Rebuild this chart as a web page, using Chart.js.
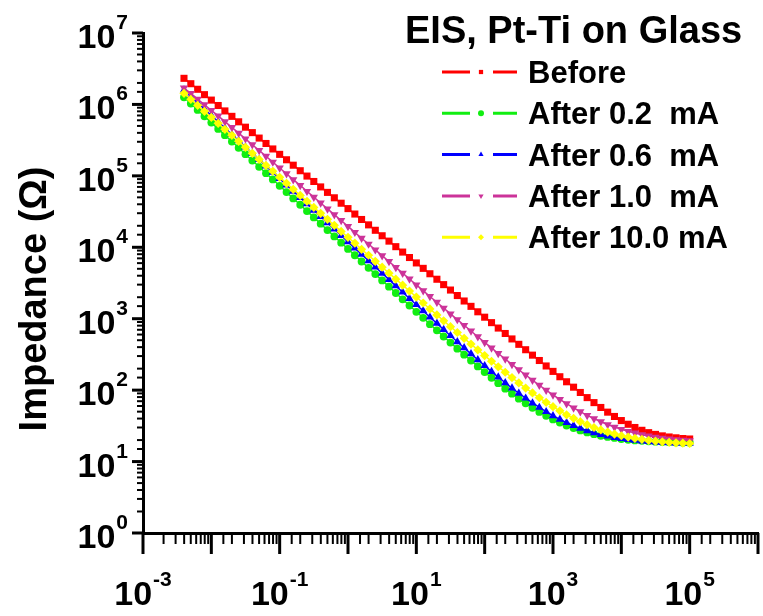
<!DOCTYPE html>
<html>
<head>
<meta charset="utf-8">
<script src="https://cdn.jsdelivr.net/npm/chart.js@4.4.1/dist/chart.umd.min.js"></script>
<style>
  html, body { margin: 0; padding: 0; background: #fff; }
  #eis { display: block; }
</style>
</head>
<body>
<canvas id="eis" width="763" height="616"></canvas>
<script>
// EIS, Pt-Ti on Glass - |Z| vs frequency (Hz), log-log

const freq = [
  0.00398, 0.00501, 0.00631, 0.00794, 0.01, 0.0126, 0.0158, 0.02, 0.0251, 0.0316,
  0.0398, 0.0501, 0.0631, 0.0794, 0.1, 0.126, 0.158, 0.2, 0.251, 0.316,
  0.398, 0.501, 0.631, 0.794, 1, 1.26, 1.58, 2, 2.51, 3.16,
  3.98, 5.01, 6.31, 7.94, 10, 12.6, 15.8, 20, 25.1, 31.6,
  39.8, 50.1, 63.1, 79.4, 100, 126, 158, 200, 251, 316,
  398, 501, 631, 794, 1000, 1260, 1580, 2000, 2510, 3160,
  3980, 5010, 6310, 7940, 10000, 12600, 15800, 20000, 25100, 31600,
  39800, 50100, 63100, 79400, 100000
];

const zBefore = [
  2.32e6, 1.95e6, 1.63e6, 1.37e6, 1.15e6, 9.66e5, 8.11e5, 6.81e5, 5.71e5, 4.80e5,
  4.03e5, 3.38e5, 2.84e5, 2.38e5, 2.00e5, 1.68e5, 1.41e5, 1.18e5, 9.93e4, 8.34e4,
  7.00e4, 5.87e4, 4.93e4, 4.14e4, 3.48e4, 2.92e4, 2.45e4, 2.06e4, 1.73e4, 1.45e4,
  1.22e4, 1.02e4, 8570, 7190, 6040, 5070, 4260, 3570, 3000, 2520,
  2110, 1770, 1490, 1250, 1050, 881, 740, 621, 521, 438,
  368, 309, 260, 218, 183, 154, 131, 110, 92.8, 78.6,
  66.9, 57.2, 49.2, 42.8, 37.5, 33.3, 30.0, 27.4, 25.4, 24.0,
  22.9, 22.1, 21.5, 21.0, 20.7
];

const zAfter02 = [
  1.26e6, 1.03e6, 8.38e5, 6.83e5, 5.57e5, 4.54e5, 3.71e5, 3.02e5, 2.47e5, 2.01e5,
  1.64e5, 1.34e5, 1.09e5, 8.90e4, 7.26e4, 5.92e4, 4.83e4, 3.94e4, 3.21e4, 2.62e4,
  2.14e4, 1.74e4, 1.42e4, 1.16e4, 9480, 7740, 6320, 5150, 4210, 3440,
  2810, 2290, 1870, 1530, 1250, 1030, 838, 687, 564, 463,
  381, 314, 260, 215, 179, 149, 125, 105, 89.1, 76.0,
  65.3, 56.6, 49.5, 43.7, 38.9, 35.1, 31.9, 29.4, 27.3, 25.6,
  24.2, 23.0, 22.1, 21.4, 20.7, 20.2, 19.8, 19.5, 19.2, 19.0,
  18.8, 18.7, 18.5, 18.4, 18.4
];

const zAfter06 = [
  1.59e6, 1.30e6, 1.06e6, 8.60e5, 7.01e5, 5.72e5, 4.67e5, 3.80e5, 3.11e5, 2.53e5,
  2.06e5, 1.69e5, 1.37e5, 1.12e5, 9.14e4, 7.45e4, 6.08e4, 4.96e4, 4.04e4, 3.30e4,
  2.69e4, 2.19e4, 1.79e4, 1.46e4, 1.19e4, 9740, 7950, 6480, 5300, 4330,
  3530, 2880, 2350, 1920, 1570, 1290, 1050, 860, 705, 578,
  475, 390, 322, 266, 220, 182, 152, 127, 107, 90.5,
  77.1, 66.1, 57.2, 49.9, 43.8, 39.0, 35.0, 31.9, 29.2, 27.0,
  25.3, 23.8, 22.7, 21.7, 20.9, 20.3, 19.8, 19.4, 19.0, 18.7,
  18.5, 18.3, 18.2, 18.1, 18.0
];

const zAfter10 = [
  1.70e6, 1.43e6, 1.19e6, 9.90e5, 8.27e5, 6.90e5, 5.74e5, 4.77e5, 3.97e5, 3.30e5,
  2.73e5, 2.27e5, 1.88e5, 1.56e5, 1.29e5, 1.07e5, 8.87e4, 7.35e4, 6.08e4, 5.04e4,
  4.17e4, 3.45e4, 2.86e4, 2.37e4, 1.96e4, 1.62e4, 1.34e4, 1.11e4, 9220, 7640,
  6330, 5240, 4350, 3600, 2980, 2470, 2050, 1700, 1410, 1170,
  973, 809, 673, 560, 467, 390, 326, 273, 229, 193,
  163, 138, 117, 100, 85.9, 74.2, 64.6, 56.5, 49.9, 44.4,
  39.9, 36.1, 33.0, 30.4, 28.3, 26.5, 25.1, 23.8, 22.8, 22.0,
  21.3, 20.7, 20.3, 19.9, 19.6
];

const zAfter100 = [
  1.43e6, 1.18e6, 9.70e5, 8.00e5, 6.59e5, 5.43e5, 4.48e5, 3.69e5, 3.04e5, 2.51e5,
  2.07e5, 1.70e5, 1.40e5, 1.16e5, 9.53e4, 7.85e4, 6.47e4, 5.33e4, 4.40e4, 3.62e4,
  2.99e4, 2.46e4, 2.03e4, 1.67e4, 1.38e4, 1.14e4, 9360, 7730, 6370, 5260,
  4340, 3580, 2950, 2440, 2010, 1660, 1370, 1130, 935, 774,
  641, 531, 441, 366, 305, 254, 212, 178, 150, 126,
  107, 91.3, 78.2, 67.5, 58.6, 51.3, 45.2, 40.3, 36.2, 32.8,
  30.0, 27.7, 25.9, 24.3, 23.0, 22.0, 21.1, 20.4, 19.8, 19.3,
  18.9, 18.6, 18.3, 18.1, 17.9
];

const seriesNames = ["Before", "After 0.2  mA", "After 0.6  mA", "After 1.0  mA", "After 10.0 mA"];
const legendTitle = "EIS, Pt-Ti on Glass";
const yTitle = "Impedance (\u03A9)";
const xTickExps = [-3, -1, 1, 3, 5];
const yTickExps = [0, 1, 2, 3, 4, 5, 6, 7];

const seriesValues = [zBefore, zAfter02, zAfter06, zAfter10, zAfter100];
const colors = ["#ff0000", "#11ee11", "#0000ff", "#cc3399", "#ffff00"];
const styles = [
  { pointStyle: "rect", radius: 5, rotation: 0 },
  { pointStyle: "circle", radius: 3.9, rotation: 0 },
  { pointStyle: "triangle", radius: 4.8, rotation: 0 },
  { pointStyle: "triangle", radius: 4.8, rotation: 180 },
  { pointStyle: "rectRot", radius: 4.6, rotation: 0 }
];

const datasets = seriesValues.map((vals, i) => ({
  label: seriesNames[i],
  data: vals.map((v, k) => ({ x: freq[k], y: v })),
  borderColor: colors[i],
  backgroundColor: colors[i],
  borderWidth: 1.5,
  pointStyle: styles[i].pointStyle,
  pointRadius: styles[i].radius,
  pointRotation: styles[i].rotation,
  pointBorderWidth: 0,
  order: seriesNames.length - i,
  tension: 0
}));

function drawPow(ctx, exp, x, baseline, align) {
  const base = "10", sup = String(exp);
  ctx.font = "bold 34px Arial, 'Liberation Sans', sans-serif";
  const wb = ctx.measureText(base).width;
  ctx.font = "bold 21px Arial, 'Liberation Sans', sans-serif";
  const ws = ctx.measureText(sup).width;
  const total = wb + 1 + ws;
  let left = align === "right" ? x - total : x - total / 2;
  ctx.textAlign = "left";
  ctx.textBaseline = "alphabetic";
  ctx.font = "bold 34px Arial, 'Liberation Sans', sans-serif";
  ctx.fillText(base, left, baseline);
  ctx.font = "bold 21px Arial, 'Liberation Sans', sans-serif";
  ctx.fillText(sup, left + wb + 1, baseline - 19);
}

const isPow10 = v => Math.abs(Math.log10(v) - Math.round(Math.log10(v))) < 1e-6;

const decor = {
  id: "decor",
  afterDraw(chart) {
    const ctx = chart.ctx;
    const xs = chart.scales.x, ys = chart.scales.y;
    const area = chart.chartArea;
    ctx.save();
    ctx.strokeStyle = "#000";
    ctx.fillStyle = "#000";

    // ticks, outward, long for decades
    xs.ticks.forEach(t => {
      const px = xs.getPixelForValue(t.value);
      const major = isPow10(t.value);
      ctx.lineWidth = major ? 3 : 2;
      ctx.beginPath();
      ctx.moveTo(px, area.bottom);
      ctx.lineTo(px, area.bottom + (major ? 21 : 11));
      ctx.stroke();
    });
    ys.ticks.forEach(t => {
      const py = ys.getPixelForValue(t.value);
      const major = isPow10(t.value);
      ctx.lineWidth = major ? 3 : 2;
      ctx.beginPath();
      ctx.moveTo(area.left, py);
      ctx.lineTo(area.left - (major ? 11 : 6), py);
      ctx.stroke();
    });

    // tick labels
    xTickExps.forEach(e => drawPow(ctx, e, xs.getPixelForValue(Math.pow(10, e)), area.bottom + 72, "center"));
    yTickExps.forEach(e => drawPow(ctx, e, area.left - 15, ys.getPixelForValue(Math.pow(10, e)) + 15, "right"));

    // y axis title
    ctx.save();
    ctx.translate(46, 299);
    ctx.rotate(-Math.PI / 2);
    ctx.textAlign = "center";
    ctx.font = "bold 38px Arial, 'Liberation Sans', sans-serif";
    ctx.fillText(yTitle, 0, 0);
    ctx.restore();

    // legend
    ctx.textAlign = "left";
    ctx.font = "bold 38px Arial, 'Liberation Sans', sans-serif";
    ctx.fillText(legendTitle, 405, 43);
    ctx.font = "bold 31px Arial, 'Liberation Sans', sans-serif";
    chart.data.datasets.forEach((ds, i) => {
      const base = 83 + i * 41.3;
      const ly = base - 11;
      ctx.strokeStyle = ds.borderColor;
      ctx.fillStyle = ds.borderColor;
      ctx.lineWidth = 3;
      ctx.beginPath();
      ctx.moveTo(442, ly); ctx.lineTo(470, ly);
      ctx.moveTo(493, ly); ctx.lineTo(517, ly);
      ctx.stroke();
      Chart.helpers.drawPoint(ctx, { pointStyle: ds.pointStyle, rotation: ds.pointRotation, radius: 3, borderWidth: 0 }, 481, ly);
      ctx.fillStyle = "#000";
      ctx.fillText(ds.label, 528, base);
    });
    ctx.restore();
  }
};

const logAxis = (min, max, pos) => ({
  type: "logarithmic",
  position: pos,
  min: min,
  max: max,
  grid: { display: false, drawTicks: false },
  border: { display: true, color: "#000", width: 3 },
  ticks: { display: false }
});

new Chart(document.getElementById("eis").getContext("2d"), {
  type: "line",
  data: { datasets },
  options: {
    responsive: false,
    devicePixelRatio: 1,
    animation: false,
    layout: { padding: { left: 143, right: 5, top: 33, bottom: 83 } },
    plugins: { legend: { display: false }, tooltip: { enabled: false } },
    scales: {
      x: logAxis(1e-3, 1e6, "bottom"),
      y: logAxis(1, 1e7, "left")
    }
  },
  plugins: [decor]
});
</script>
</body>
</html>
